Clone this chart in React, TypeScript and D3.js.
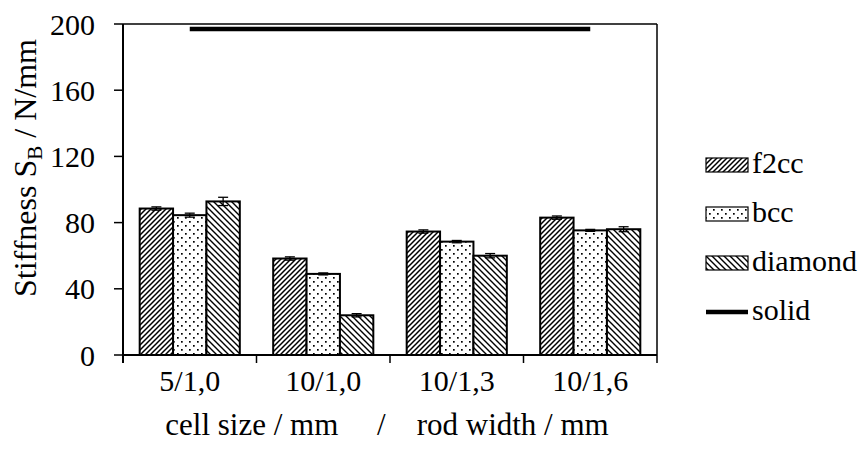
import React from 'react';
import * as d3 from 'd3';

// values
const categories = ['5/1,0', '10/1,0', '10/1,3', '10/1,6'];
const seriesNames = ['f2cc', 'bcc', 'diamond'];
const f2ccValues = [88.5, 58.3, 74.6, 83.0];
const f2ccErrors = [1.0, 1.0, 1.0, 1.0];
const bccValues = [84.5, 49.0, 68.5, 75.3];
const bccErrors = [1.2, 0.6, 0.7, 0.6];
const diamondValues = [92.8, 24.0, 60.0, 76.0];
const diamondErrors = [2.5, 1.0, 1.3, 1.5];
const solidValues = [197, 197, 197, 197];
const yTicks = [0, 40, 80, 120, 160, 200];

const FONT = "'Liberation Serif', 'Times New Roman', Tinos, 'DejaVu Serif', serif";
const FS = 30;

const width = 865;
const height = 449;
const margin = { left: 123, top: 24, right: 208, bottom: 94 };

function App() {
	const x = d3.scaleBand().domain(categories).range([margin.left, width - margin.right]);
	const xInner = d3.scaleBand().domain(seriesNames).range([0, x.bandwidth()]).paddingInner(0).paddingOuter(0.5);
	const y = d3.scaleLinear().domain([0, 200]).range([height - margin.bottom, margin.top]);

	const values = { f2cc: f2ccValues, bcc: bccValues, diamond: diamondValues };
	const errors = { f2cc: f2ccErrors, bcc: bccErrors, diamond: diamondErrors };
	const fills = { f2cc: 'url(#hatchUp)', bcc: 'url(#dots)', diamond: 'url(#hatchDown)' };

	const x0 = margin.left;
	const x1 = width - margin.right;
	const yBase = y(0);

	const solidLine = d3.line<number>()
		.x((d, i) => x(categories[i])! + x.bandwidth() / 2)
		.y(d => y(d));

	const txt = { fontFamily: FONT, fontSize: FS, fill: '#000' };

	// legend
	const legendX = 706;
	const legendY = [173, 222, 271, 320];

	return (
		<div style={{ position: 'absolute', left: 0, top: 0 }}>
			<svg width={width} height={height} style={{ display: 'block', background: '#fff', fontFamily: FONT }}>
				<defs>
					<pattern id="hatchUp" patternUnits="userSpaceOnUse" width="5" height="5">
						<rect width="5" height="5" fill="#fff" />
						<path d="M-1,1 l2,-2 M0,5 l5,-5 M4,6 l2,-2" stroke="#000" strokeWidth="1.5" />
					</pattern>
					<pattern id="hatchDown" patternUnits="userSpaceOnUse" width="6" height="6">
						<rect width="6" height="6" fill="#fff" />
						<path d="M-1,5 l2,2 M0,0 l6,6 M5,-1 l2,2" stroke="#000" strokeWidth="1.4" />
					</pattern>
					<pattern id="dots" patternUnits="userSpaceOnUse" width="8" height="8">
						<rect width="8" height="8" fill="#fff" />
						<rect x="1" y="1" width="1.7" height="1.7" fill="#000" />
						<rect x="5" y="5" width="1.7" height="1.7" fill="#000" />
					</pattern>
				</defs>

				{/* plot frame top + right */}
				<line x1={x0} x2={x1} y1={y(200)} y2={y(200)} stroke="#000" strokeWidth={1.5} />
				<line x1={x1} x2={x1} y1={y(200)} y2={yBase} stroke="#000" strokeWidth={1.5} />

				{/* bars */}
				{seriesNames.map(s => (
					<g key={s}>
						{categories.map((c, i) => {
							const v = values[s][i];
							const bx = x(c)! + xInner(s)!;
							return (
								<rect key={c} x={bx} y={y(v)} width={xInner.bandwidth()} height={yBase - y(v)}
									fill={fills[s]} stroke="#000" strokeWidth={2} />
							);
						})}
					</g>
				))}

				{/* error bars */}
				{seriesNames.map(s => (
					<g key={s + 'err'} stroke="#000" strokeWidth={1.3}>
						{categories.map((c, i) => {
							const v = values[s][i];
							const e = errors[s][i];
							const cx = x(c)! + xInner(s)! + xInner.bandwidth() / 2;
							return (
								<g key={c}>
									<line x1={cx} x2={cx} y1={y(v + e)} y2={y(v - e)} />
									<line x1={cx - 5} x2={cx + 5} y1={y(v + e)} y2={y(v + e)} />
									<line x1={cx - 5} x2={cx + 5} y1={y(v - e)} y2={y(v - e)} />
								</g>
							);
						})}
					</g>
				))}

				{/* solid line */}
				<path d={solidLine(solidValues)!} fill="none" stroke="#000" strokeWidth={4.5} />

				{/* y axis */}
				<line x1={x0} x2={x0} y1={y(200)} y2={yBase + 8} stroke="#000" strokeWidth={2} />
				{yTicks.map(t => (
					<g key={t}>
						<line x1={x0 - 9} x2={x0} y1={y(t)} y2={y(t)} stroke="#000" strokeWidth={1.5} />
						<text x={x0 - 28} y={y(t)} dy="0.35em" textAnchor="end" style={txt}>{t}</text>
					</g>
				))}

				{/* x axis */}
				<line x1={x0} x2={x1} y1={yBase} y2={yBase} stroke="#000" strokeWidth={2} />
				{categories.map(c => (
					<line key={c} x1={x(c)! + x.bandwidth()} x2={x(c)! + x.bandwidth()} y1={yBase} y2={yBase + 8} stroke="#000" strokeWidth={1.5} />
				))}
				{categories.map(c => (
					<text key={c} x={x(c)! + x.bandwidth() / 2} y={yBase + 36} textAnchor="middle" style={txt}>{c}</text>
				))}

				{/* axis titles */}
				<text x={(x0 + x1) / 2 - 3} y={yBase + 80} textAnchor="middle" style={{ ...txt, fontSize: 31, whiteSpace: 'pre' }}>
					{'cell size / mm     /    rod width / mm'}
				</text>
				<text transform={`translate(36,168) rotate(-90)`} textAnchor="middle" style={{ ...txt, fontSize: 32 }}>
					Stiffness S<tspan style={{ fontSize: 21 }} dy="6">B</tspan><tspan dy="-6"> / N/mm</tspan>
				</text>

				{/* legend */}
				{seriesNames.map((s, i) => (
					<g key={s}>
						<rect x={legendX} y={legendY[i] - 15} width={42} height={14} fill={fills[s]} stroke="#000" strokeWidth={1.2} />
						<text x={legendX + 46} y={legendY[i]} style={txt}>{s}</text>
					</g>
				))}
				<line x1={legendX} x2={legendX + 42} y1={legendY[3] - 8} y2={legendY[3] - 8} stroke="#000" strokeWidth={4.5} />
				<text x={legendX + 46} y={legendY[3]} style={txt}>solid</text>
			</svg>
		</div>
	);
}

export default App;
